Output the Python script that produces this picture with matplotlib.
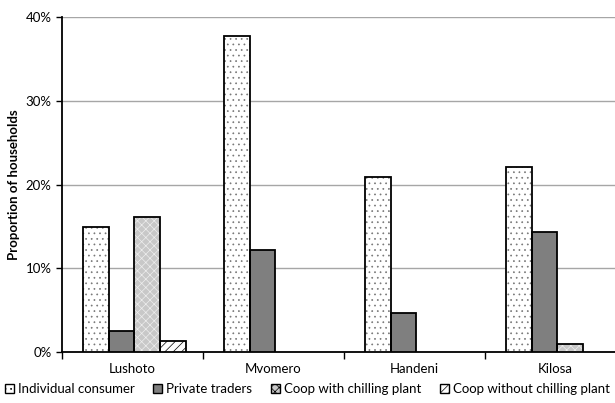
import matplotlib
matplotlib.use("Agg")
import matplotlib.pyplot as plt
import numpy as np

plt.rcParams['font.family'] = ['Lato', 'DejaVu Sans']
plt.rcParams['hatch.linewidth'] = 0.5

districts = ['Lushoto', 'Mvomero', 'Handeni', 'Kilosa']
series = ['Individual consumer', 'Private traders', 'Coop with chilling plant', 'Coop without chilling plant']
individual = [14.9, 37.7, 20.9, 22.1]
private = [2.5, 12.2, 4.7, 14.3]
coop_chill = [16.1, 0, 0, 0.9]
coop_nochill = [1.3, 0, 0, 0]

values = [individual, private, coop_chill, coop_nochill]
faces = ['white', '#7f7f7f', '#c8c8c8', 'white']
hatches = ['...', None, 'xxxx', '////']
hcolors = ['#777777', 'black', '#eeeeee', 'black']

fig = plt.figure(figsize=(6.15, 4.03), dpi=100)
ax = fig.add_axes([62/615, (403-352)/403, 564/615, (352-17)/403])

x = np.arange(len(districts))
w = 0.182
for i, (vals, fc, h, hc) in enumerate(zip(values, faces, hatches, hcolors)):
    pos = x + (i - 1.5) * w + 0.012
    for p, v in zip(pos, vals):
        if v <= 0:
            continue
        # hatch drawn in its own colour, outline on top
        ax.bar(p, v, w, color=fc, hatch=h, edgecolor=hc, linewidth=0, zorder=3)
        ax.bar(p, v, w, color='none', edgecolor='black', linewidth=1.3, zorder=4)

ax.set_xlim(-0.5, 3.5)
ax.set_ylim(0, 40)
ax.set_yticks([0, 10, 20, 30, 40])
ax.set_yticklabels(['0%', '10%', '20%', '30%', '40%'], fontsize=9.5)
ax.yaxis.grid(True, color='#a6a6a6', linewidth=1)
ax.set_axisbelow(True)
ax.set_xticks(x)
ax.set_xticklabels(districts, fontsize=9.5)
ax.tick_params(axis='x', length=0, pad=8)
ax.set_xticks(np.arange(-0.5, 4.0, 1), minor=True)
ax.tick_params(axis='x', which='minor', length=5, width=1, direction='out')
ax.tick_params(axis='y', length=4, width=1, direction='out')
for s in ['top', 'right']:
    ax.spines[s].set_visible(False)
ax.spines['left'].set_linewidth(1.3)
ax.spines['bottom'].set_linewidth(1.3)
ax.set_ylabel('Proportion of households', fontsize=9.5, fontweight='bold', labelpad=4)

handles = [plt.Rectangle((0, 0), 1, 1, facecolor=fc, hatch=h, edgecolor='black', linewidth=1)
           for fc, h in zip(faces, hatches)]
fig.legend(handles, series, loc='lower center', bbox_to_anchor=(0.5, -0.01), ncol=4,
           frameon=False, fontsize=9.5, handlelength=0.7, handleheight=0.7,
           handletextpad=0.3, columnspacing=1.4)

fig.savefig('out.png', dpi=100)
